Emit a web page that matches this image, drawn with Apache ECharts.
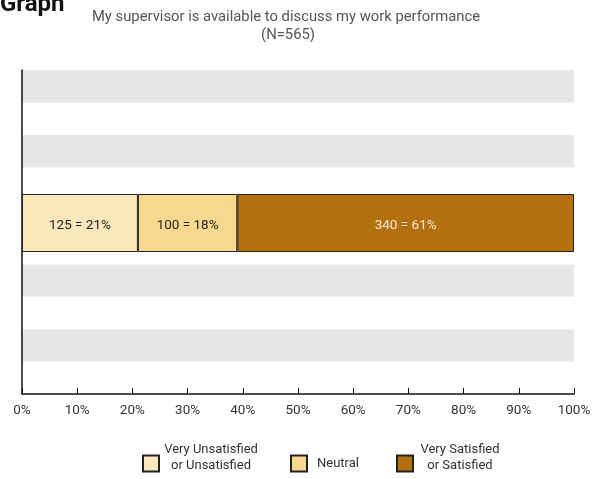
<!DOCTYPE html>
<html>
<head>
<meta charset="utf-8">
<script src="https://cdn.jsdelivr.net/npm/echarts@6/dist/echarts.min.js"></script>
<style>
html,body{margin:0;padding:0;background:#fff;}
#c{width:595px;height:479px;}
</style>
</head>
<body>
<div id="c"></div>
<script>
var categories = ['My supervisor is available to discuss my work performance'];
var seriesNames = ['Very Unsatisfied\nor Unsatisfied', 'Neutral', 'Very Satisfied\nor Satisfied'];
var seriesCounts = [125, 100, 340];
var seriesPercents = [21, 18, 61];
var seriesColors = ['#fbe7bb', '#f7d88c', '#b2700f'];
var labelColors = ['#222222', '#222222', '#f6ead6'];
var xTicks = [0, 10, 20, 30, 40, 50, 60, 70, 80, 90, 100];
var chartTitle = 'My supervisor is available to discuss my work performance';
var chartSubtitle = '(N=565)';

var FONT = 'Roboto';
var legendWidths = [94, 52, 84];
var richKeys = ['a', 'b', 'c'];

var series = seriesNames.map(function (name, i) {
  return {
    name: name,
    type: 'bar',
    stack: 'total',
    xAxisIndex: 1,
    yAxisIndex: 1,
    barWidth: '100%',
    itemStyle: { color: seriesColors[i], borderColor: '#222', borderWidth: 1 },
    label: {
      show: true,
      position: 'inside',
      fontFamily: FONT,
      fontSize: 13.5,
      color: labelColors[i],
      offset: [0, 3],
      formatter: function () { return seriesCounts[i] + ' = ' + seriesPercents[i] + '%'; }
    },
    data: [seriesPercents[i]]
  };
});

var rich = { s: { fontSize: 8, lineHeight: 12 } };
seriesNames.forEach(function (n, i) {
  rich[richKeys[i]] = { width: legendWidths[i], align: 'center', fontFamily: FONT, fontSize: 13, color: '#333', lineHeight: 16 };
});

var option = {
  animation: false,
  backgroundColor: '#ffffff',
  graphic: [
    { type: 'text', x: 0, y: 5, style: { text: 'Graph', fontFamily: FONT, fontSize: 24, fontWeight: 'bold', fill: '#111', textAlign: 'left', verticalAlign: 'middle' } },
    { type: 'text', x: 286, y: 17, style: { text: chartTitle, fontFamily: FONT, fontSize: 14.8, fill: '#555', textAlign: 'center', verticalAlign: 'middle' } },
    { type: 'text', x: 288, y: 35, style: { text: chartSubtitle, fontFamily: FONT, fontSize: 14.8, fill: '#555', textAlign: 'center', verticalAlign: 'middle' } }
  ],
  legend: {
    left: 142,
    top: 443,
    padding: 0,
    itemWidth: 16,
    itemHeight: 16,
    itemGap: 32,
    icon: 'rect',
    data: seriesNames,
    formatter: function (name) {
      var k = richKeys[seriesNames.indexOf(name)];
      var lines = name.split('\n');
      var out = lines.map(function (l) { return '{' + k + '|' + l + '}'; }).join('\n');
      if (lines.length > 1) { out += '\n{s| }'; }
      return out;
    },
    textStyle: { rich: rich }
  },
  grid: [
    { left: 22, right: 21, top: 70, bottom: 85 },
    { left: 22, right: 21, top: 194, height: 58 }
  ],
  xAxis: [
    {
      gridIndex: 0, type: 'value', min: 0, max: 100, interval: 10,
      axisLine: { show: true, lineStyle: { color: '#111', width: 1.5 } },
      axisTick: { show: true, inside: true, length: 6, lineStyle: { color: '#111', width: 1 } },
      axisLabel: { margin: 10, fontFamily: FONT, fontSize: 13.5, color: '#333', formatter: '{value}%' },
      splitLine: { show: false }
    },
    { gridIndex: 1, type: 'value', min: 0, max: 100, show: false }
  ],
  yAxis: [
    {
      gridIndex: 0, type: 'value', min: 0, max: 10, interval: 1,
      axisLine: { show: true, lineStyle: { color: '#111', width: 1.5 } },
      axisTick: { show: false }, axisLabel: { show: false },
      splitLine: { show: false },
      splitArea: { show: true, areaStyle: { color: ['#ffffff', '#e6e7e8'] } }
    },
    { gridIndex: 1, type: 'category', data: categories, show: false }
  ],
  series: series
};

echarts.init(document.getElementById('c')).setOption(option);
</script>
</body>
</html>
